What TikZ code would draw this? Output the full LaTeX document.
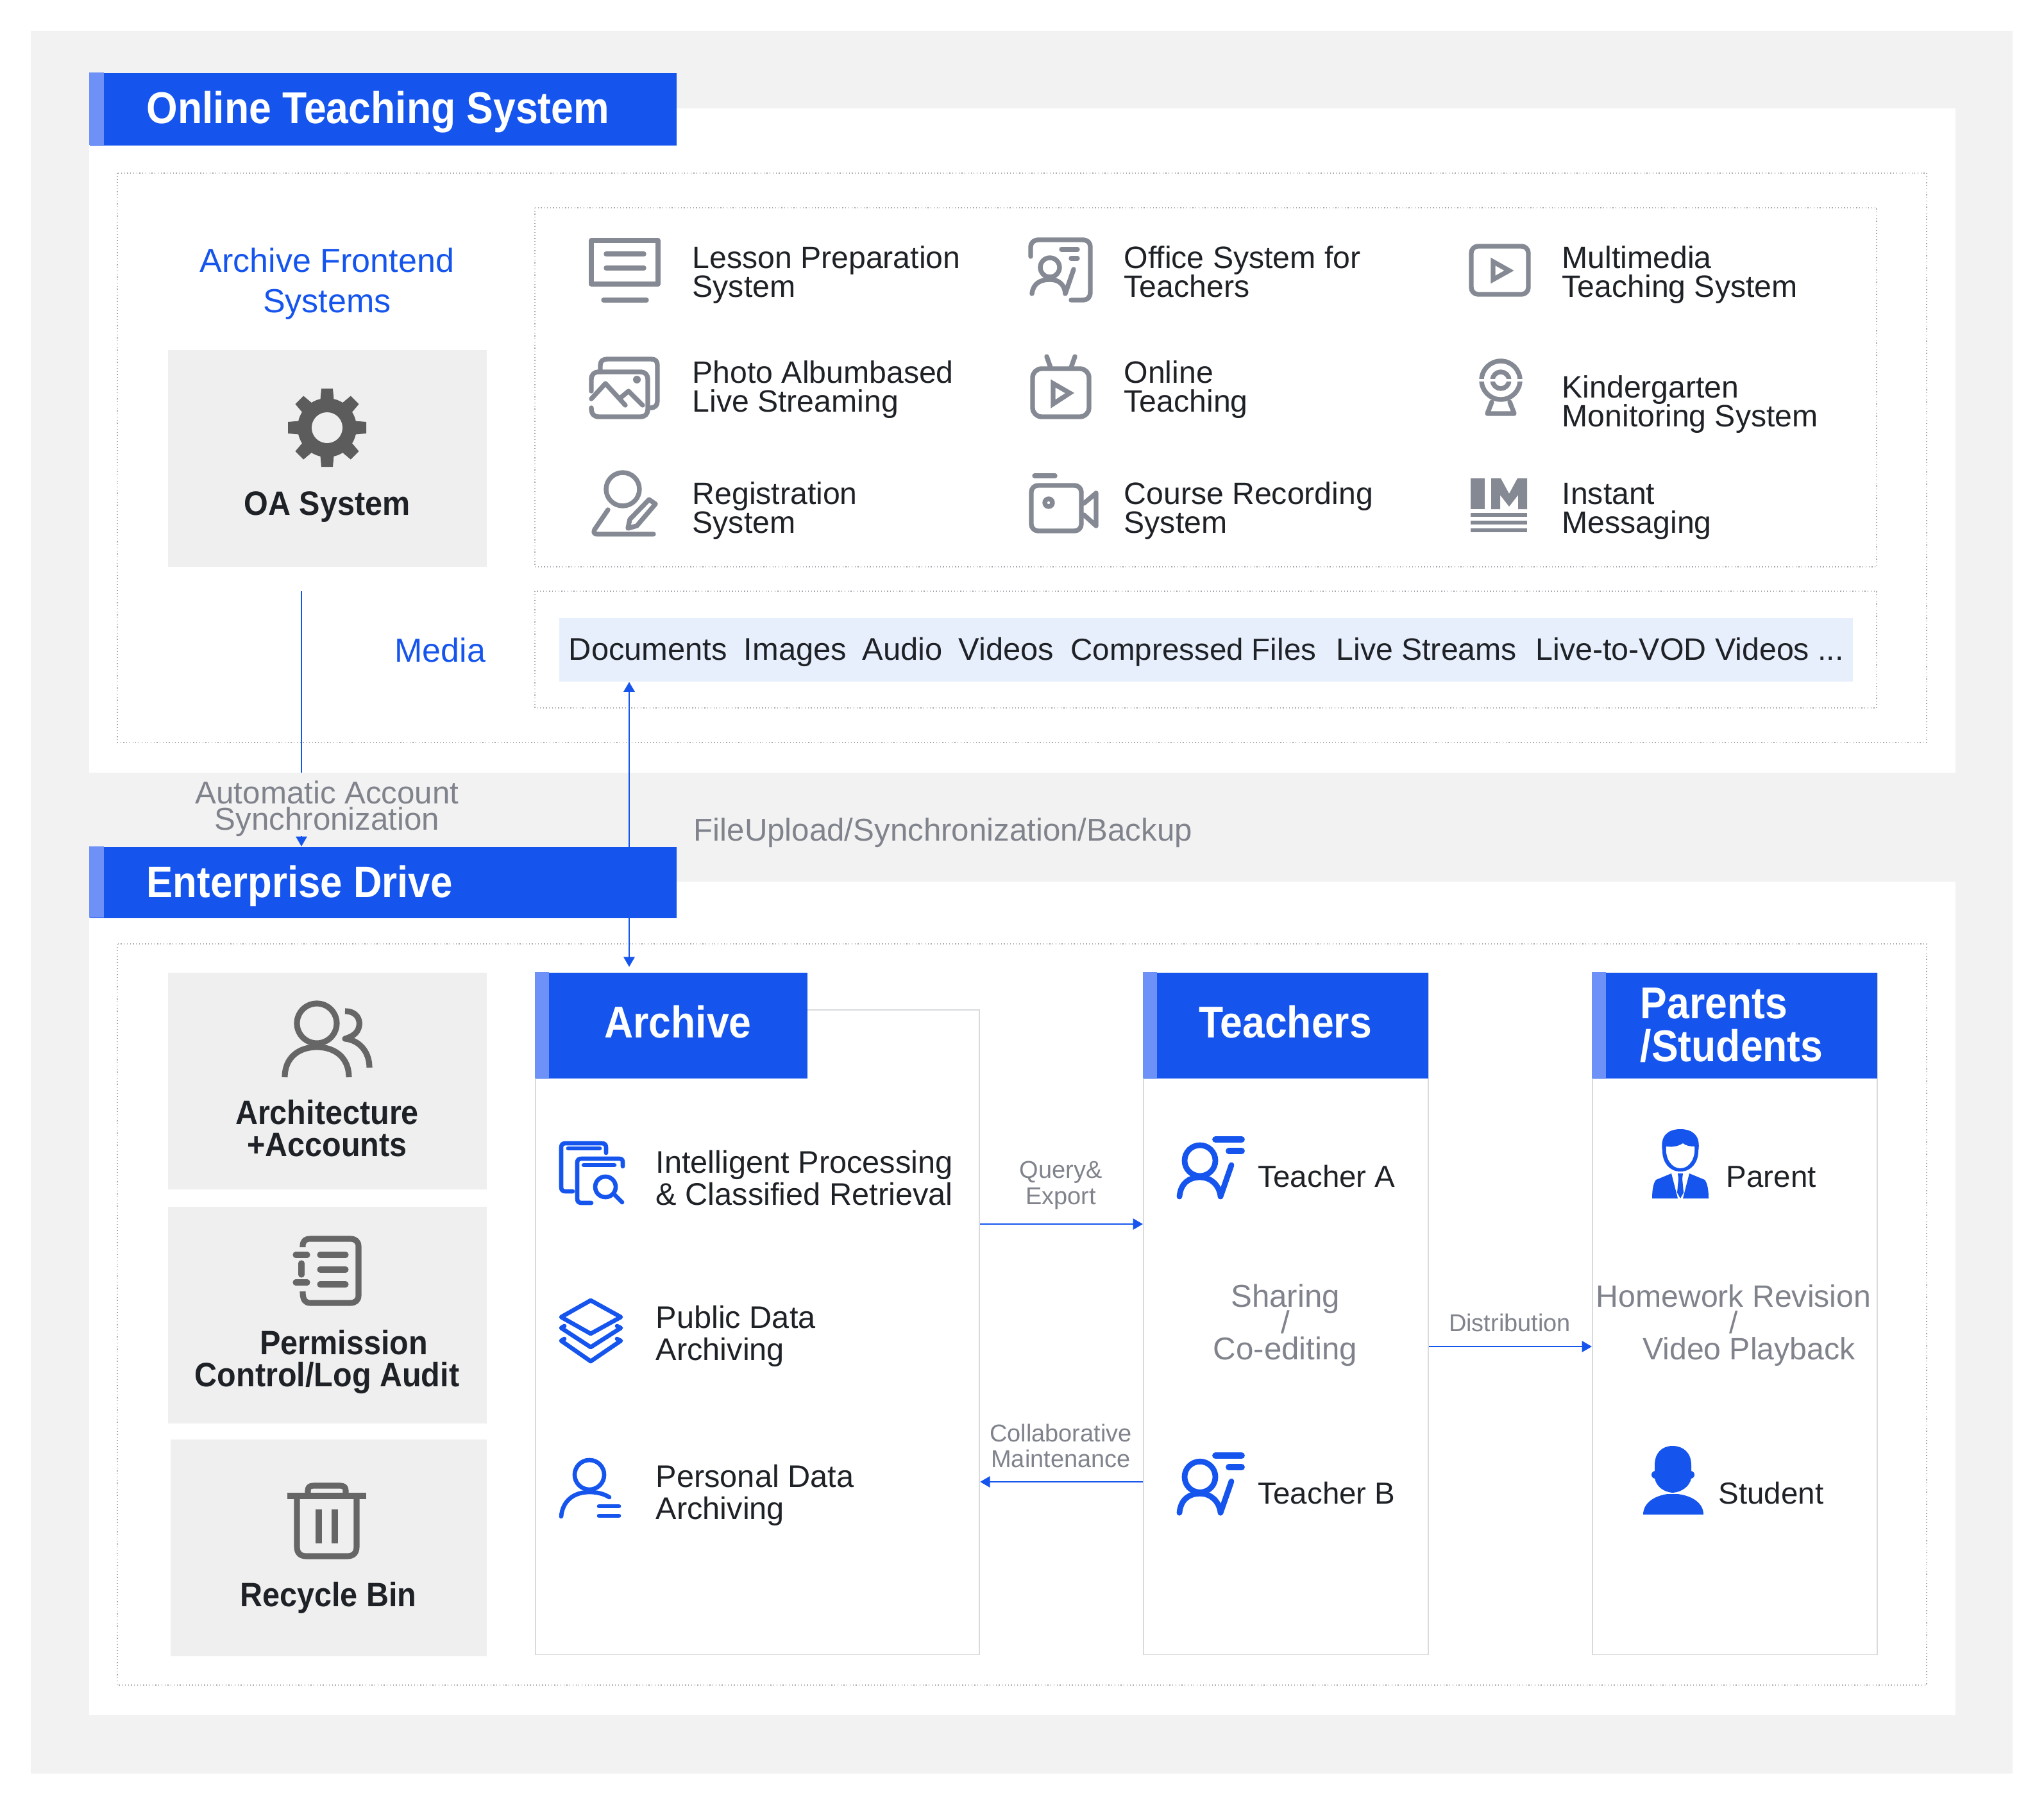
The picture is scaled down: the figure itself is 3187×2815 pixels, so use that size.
\documentclass[tikz,border=0pt]{standalone}
\usepackage{fontspec}
\setmainfont{Liberation Sans}
\newfontfamily\titlefamily[FakeStretch=0.9]{Liberation Sans}
\newfontfamily\labelfamily[FakeStretch=0.92]{Liberation Sans}
\usetikzlibrary{calc,arrows.meta}

\definecolor{brandBlue}{HTML}{1555EE}
\definecolor{accentBlue}{HTML}{6E91F7}
\definecolor{stripBlue}{HTML}{E8EFFC}
\definecolor{pageGrey}{HTML}{F2F2F2}
\definecolor{boxGrey}{HTML}{EFEFEF}
\definecolor{frameGrey}{HTML}{A4A7AD}
\definecolor{colGrey}{HTML}{D8DADD}
\definecolor{inkDark}{HTML}{1E2126}
\definecolor{inkGrey}{HTML}{80838C}
\definecolor{iconGrey}{HTML}{858993}
\definecolor{iconDark}{HTML}{666666}

\def\itemfont{\fontsize{13.7}{12.8}\selectfont\lineskiplimit=-20pt}
\def\peoplefont{\fontsize{13.5}{12.8}\selectfont}
\def\archfont{\fontsize{13.85}{14.2}\selectfont\lineskiplimit=-20pt}
\def\notefont{\fontsize{14}{11.7}\selectfont\lineskiplimit=-20pt}
\def\revisefont{\fontsize{13.7}{11.7}\selectfont\lineskiplimit=-20pt}
\def\smallfont{\fontsize{10.8}{11.6}\selectfont\lineskiplimit=-20pt}
\def\bluefont{\fontsize{14.8}{17.9}\selectfont\lineskiplimit=-20pt}
\def\titlefont{\titlefamily\bfseries\fontsize{19.75}{19}\selectfont\lineskiplimit=-20pt}
\def\drivefont{\titlefamily\bfseries\fontsize{19.5}{19}\selectfont}
\def\boxfont{\labelfamily\bfseries\fontsize{15}{14.2}\selectfont\lineskiplimit=-20pt}

\begin{document}
\begin{tikzpicture}[x=0.01cm,y=-0.01cm,>={Triangle[length=4.4pt,width=4.9pt]},
    panel/.style={fill=white},
    dotframe/.style={draw=frameGrey,densely dotted,line width=0.35pt},
    banner/.style={fill=brandBlue,anchor=north west,inner sep=0pt},
    stripe/.style={fill=accentBlue},
    greybox/.style={fill=boxGrey,anchor=north west,inner sep=0pt,minimum width=4.97cm,minimum height=3.38cm},
    colbox/.style={draw=colGrey,line width=0.5pt,fill=white,anchor=north west,inner sep=0pt},
    flow/.style={draw=brandBlue,line width=0.7pt},
    itemtext/.style={font=\itemfont,text=inkDark,align=left,anchor=west,inner sep=0pt},
    notetext/.style={font=\notefont,text=inkGrey,align=center,inner sep=0pt},
    smalltext/.style={font=\smallfont,text=inkGrey,align=center,inner sep=0pt},
    bluetext/.style={font=\bluefont,text=brandBlue,align=center,inner sep=0pt},
    titletext/.style={font=\titlefont,text=white,align=left,inner sep=0pt},
    boxtext/.style={font=\boxfont,text=inkDark,align=center,inner sep=0pt},
    greyicon/.style={draw=iconGrey,line width=2.1pt,line cap=round,line join=round},
    darkicon/.style={draw=iconDark,line width=2.6pt,line join=round},
    blueicon/.style={draw=brandBlue,line width=1.9pt,line cap=round,line join=round},
    teacher icon/.pic={
        \draw[draw=brandBlue,line width=2.5pt,line cap=round] (1871,1810) circle (24);
        \draw[draw=brandBlue,line width=2.5pt,line cap=round,line join=round] (1839,1866) .. controls (1841,1845) and (1854,1836) .. (1871,1836)
            .. controls (1888,1836) and (1901,1848) .. (1903,1866) -- (1920,1817);
        \draw[draw=brandBlue,line width=2.8pt,line cap=round] (1895,1777) -- (1936,1777);
        \draw[draw=brandBlue,line width=2.8pt,line cap=round] (1916,1795) -- (1936,1795);
    }]

    % --- 1. Page and Panels ---
    \useasboundingbox[fill=white] (0,0) rectangle (3187,2815);
    \fill[pageGrey] (48,48) rectangle (3138,2766);
    \fill[panel] (139,169) rectangle (3049,1205);
    \fill[panel] (139,1375) rectangle (3049,2675);
    \draw[dotframe] (183,270) rectangle (3004,1158);
    \draw[dotframe] (183,1472) rectangle (3004,2628);
    \draw[dotframe] (834,324) rectangle (2926,884);
    \draw[dotframe] (834,922) rectangle (2926,1104);

    % --- 2. Grey Boxes ---
    \node[greybox] (oaBox) at (261,545) {};
    \node[greybox] (archBox) at (261,1516) {};
    \node[greybox] (permBox) at (261,1881) {};
    \node[greybox,minimum width=4.93cm] (binBox) at (265,2244) {};

    % --- 3. Media Strip and Columns ---
    \node[fill=stripBlue,anchor=north west,inner sep=0pt,minimum width=20.16cm,minimum height=0.99cm] (mediaStrip) at (871,963) {};
    \node[colbox,minimum width=6.92cm,minimum height=10.05cm] (archiveCol) at (834,1574) {};
    \node[colbox,minimum width=4.44cm,minimum height=10.62cm] (teacherCol) at (1782,1517) {};
    \node[colbox,minimum width=4.44cm,minimum height=10.62cm] (parentCol) at (2482,1517) {};
    \node[banner,minimum width=4.24cm,minimum height=1.65cm] (archiveBanner) at (834,1516) {};
    \node[banner,minimum width=4.44cm,minimum height=1.65cm] (teacherBanner) at (1782,1516) {};
    \node[banner,minimum width=4.44cm,minimum height=1.65cm] (parentBanner) at (2482,1516) {};
    \fill[stripe] (archiveBanner.north west) rectangle ++(22,165);
    \fill[stripe] (teacherBanner.north west) rectangle ++(22,165);
    \fill[stripe] (parentBanner.north west) rectangle ++(22,165);

    % --- 4. Connectors ---
    \coordinate (syncStart) at (470,922);
    \coordinate (fileLine) at (981,0);
    \coordinate (queryLevel) at (0,1909);
    \coordinate (collabLevel) at (0,2311);
    \coordinate (distLevel) at (0,2100);
    \draw[flow,<->] (mediaStrip.south -| fileLine) -- ([yshift=2.3pt]archiveBanner.north -| fileLine);
    \draw[flow,->] (archiveCol.east |- queryLevel) -- (teacherCol.west |- queryLevel);
    \draw[flow,->] (teacherCol.west |- collabLevel) -- (archiveCol.east |- collabLevel);
    \draw[flow,->] (teacherCol.east |- distLevel) -- (parentCol.west |- distLevel);

    % --- 5. Section Banners ---
    \node[banner,minimum width=9.15cm,minimum height=1.13cm] (onlineBanner) at (139,113) {};
    \node[banner,minimum width=9.15cm,minimum height=1.11cm] (driveBanner) at (139,1320) {};
    \fill[stripe] (onlineBanner.north west) rectangle ++(23,113);
    \fill[stripe] (driveBanner.north west) rectangle ++(23,111);
    \draw[flow,->] (syncStart) -- (syncStart |- driveBanner.north);
    \fill[pageGrey] (290,1205) rectangle (730,1304);
    \node[notetext] (syncLabel) at (510,1261) {Automatic Account\\Synchronization};

    % --- 6. Titles ---
    \node[titletext,anchor=west] (onlineTitle) at (228,175) {Online Teaching System};
    \node[titletext,anchor=west,font=\drivefont] (driveTitle) at (228,1382) {Enterprise Drive};
    \node[titletext] (archiveTitle) at (1057,1594) {Archive};
    \node[titletext] (teacherTitle) at (2004,1594) {Teachers};
    \node[titletext,anchor=west] (parentTitle) at (2557,1599) {Parents\\/Students};

    % --- 7. Texts ---
    \node[bluetext] (frontendLabel) at (510,443) {Archive Frontend\\Systems};
    \node[bluetext,anchor=base east] (mediaLabel) at (758,1032) {Media};
    \node[boxtext] (oaLabel) at (510,791) {OA System};
    \node[boxtext] (archLabel) at (510,1760) {Architecture\\+Accounts};
    \node[boxtext] (permLabel) at (510,2124) {\hspace*{14.8pt}Permission\\Control/Log Audit};
    \node[boxtext] (binLabel) at (512,2492) {Recycle Bin};

    \foreach \tx/\ty/\lbl in {
        1079/429/{Lesson Preparation\\System},1752/424/{Office System for\\Teachers},2435/429/{Multimedia\\Teaching System},
        1079/608/{Photo Albumbased\\Live Streaming},1752/608/{Online\\Teaching},2435/631/{Kindergarten\\Monitoring System},
        1079/797/{Registration\\System},1752/797/{Course Recording\\System},2435/797/{Instant\\Messaging}}
        \node[itemtext] at (\tx,\ty) {\lbl};

    \foreach \ty/\lbl in {1837/{Intelligent Processing\\\& Classified Retrieval},2084/{Public Data\\Archiving},2332/{Personal Data\\Archiving}}
        \node[itemtext,font=\archfont] at (1022,\ty) {\lbl};

    \foreach \tx/\ty/\lbl in {1961/1835/{Teacher A},1961/2329/{Teacher B},2691/1835/{Parent},2679/2329/{Student}}
        \node[itemtext,font=\peoplefont] at (\tx,\ty) {\lbl};

    \foreach \tx/\fs/\lbl in {886/13.9/Documents,1159/13.9/Images,1344/13.9/Audio,1494/13.9/Videos,1669/13.5/Compressed Files,2083/13.7/Live Streams,2394/13.75/{Live-to-VOD Videos ...}}
        \node[itemtext,anchor=base west,font=\fontsize{\fs}{14}\selectfont] at (\tx,1029) {\lbl};

    \node[notetext,anchor=base west] (fileLabel) at (1081,1311) {FileUpload/Synchronization/Backup};
    \node[notetext] (shareLabel) at (2004,2067) {Sharing\\/\\Co-editing};
    \node[notetext,font=\revisefont] (homeworkLabel) at (2703,2067) {Homework Revision\\/\\\hspace*{13.6pt}Video Playback};
    \node[smalltext] (queryLabel) at (1654,1849) {Query\&\\Export};
    \node[smalltext] (collabLabel) at (1654,2255) {Collaborative\\Maintenance};
    \node[smalltext] (distLabel) at (2354,2063) {Distribution};

    % --- 8. Grey Icons (Upper Grid) ---
    \draw[greyicon] (922,375) rectangle (1026,443);
    \draw[greyicon] (945,396) -- (1004,396);
    \draw[greyicon] (945,418) -- (1004,418);
    \draw[greyicon] (941,468) -- (1008,468);

    \draw[greyicon] (1607,400) -- (1607,386) .. controls (1607,378) and (1612,374) .. (1620,374) -- (1687,374)
        .. controls (1696,374) and (1700,378) .. (1700,386) -- (1700,455) .. controls (1700,464) and (1696,468) .. (1687,468) -- (1670,468);
    \draw[greyicon] (1637,417) circle (15);
    \draw[greyicon] (1609,458) .. controls (1611,442) and (1622,436) .. (1637,436) .. controls (1652,436) and (1660,445) .. (1661,458) -- (1674,420);
    \draw[greyicon] (1655,389) -- (1680,389);
    \draw[greyicon] (1670,403) -- (1680,403);

    \draw[greyicon,rounded corners=3pt] (2294,384) rectangle (2383,459);
    \draw[greyicon,line join=miter] (2328,408) -- (2353,422) -- (2328,436) -- cycle;

    \draw[greyicon] (936,580) -- (936,570) .. controls (936,563) and (940,560) .. (947,560) -- (1015,560)
        .. controls (1022,560) and (1025,563) .. (1025,570) -- (1025,625) .. controls (1025,632) and (1022,636) .. (1014,636);
    \draw[greyicon] (922,610) -- (922,592) .. controls (922,584) and (926,580) .. (934,580) -- (998,580)
        .. controls (1006,580) and (1010,584) .. (1010,592) -- (1010,638) .. controls (1010,646) and (1006,650) .. (998,650)
        -- (934,650) .. controls (926,650) and (922,646) .. (922,636);
    \draw[greyicon] (922,622) -- (944,598) -- (975,632);
    \draw[greyicon] (968,620) -- (980,610) -- (1002,632);
    \fill[iconGrey] (993,592) circle (6);

    \draw[greyicon,rounded corners=4pt] (1610,575) rectangle (1698,650);
    \draw[greyicon] (1632,556) -- (1638,573);
    \draw[greyicon] (1676,556) -- (1670,573);
    \draw[greyicon,line join=miter] (1642,598) -- (1668,613) -- (1642,630) -- cycle;

    \draw[greyicon] (2340,593) circle (30);
    \draw[greyicon] (2340,593) circle (13);
    \fill[white] (2300,591) rectangle (2380,595);
    \draw[greyicon] (2326,627) -- (2319,645) -- (2361,645) -- (2354,627);

    \draw[greyicon] (971,763) circle (26);
    \draw[greyicon] (948,795) -- (927,826) .. controls (925,831) and (926,833) .. (932,833) -- (1019,833);
    \draw[greyicon] (1012,779) -- (1022,786) -- (993,820) -- (979,824) -- (982,810) -- cycle;

    \draw[greyicon,rounded corners=3pt] (1608,757) rectangle (1686,828);
    \draw[greyicon] (1613,742) -- (1645,742);
    \draw[greyicon] (1635,784) circle (6);
    \draw[greyicon] (1690,785) -- (1709,769) -- (1709,820) -- (1690,803);

    \fill[iconGrey] (2293,746) rectangle (2315,794);
    \fill[iconGrey] (2325,746) -- (2340,746) -- (2353,770) -- (2366,746) -- (2381,746) -- (2381,794) -- (2367,794) -- (2367,772)
        -- (2353,790) -- (2339,772) -- (2339,794) -- (2325,794) -- cycle;
    \foreach \ly in {803,815,827}
        \fill[iconGrey] (2293,\ly-3) rectangle (2381,\ly+3);

    % --- 9. Dark Icons (Left Boxes) ---
    \begin{scope}[shift={(510,667)}]
        \foreach \a in {0,45,...,315}
            \fill[iconDark!90!black,rotate=\a] (-11,38) -- (11,38) -- (9,61) -- (-9,61) -- cycle;
        \fill[iconDark!90!black] (0,0) circle (46);
        \fill[boxGrey] (0,0) circle (24);
    \end{scope}

    \draw[darkicon] (494,1596) circle (31);
    \draw[darkicon] (444,1680) .. controls (444,1650) and (465,1633) .. (494,1633) .. controls (523,1633) and (544,1650) .. (544,1680);
    \draw[darkicon] (538,1577) .. controls (556,1577) and (562,1590) .. (560,1600) .. controls (558,1612) and (548,1617) .. (538,1620)
        .. controls (560,1622) and (576,1640) .. (576,1665);

    \draw[darkicon] (472,1945) -- (472,1944) .. controls (472,1935) and (476,1932) .. (484,1932) -- (546,1932)
        .. controls (554,1932) and (559,1936) .. (559,1944) -- (559,2020) .. controls (559,2028) and (554,2032) .. (546,2032)
        -- (484,2032) .. controls (476,2032) and (472,2028) .. (472,2014);
    \draw[darkicon,line cap=round] (470,1970) -- (470,1988);
    \draw[darkicon,line cap=round] (461,1957) -- (479,1957);
    \draw[darkicon,line cap=round] (461,2000) -- (479,2000);
    \foreach \ly in {1957,1980,2003}
        \draw[darkicon,line cap=round] (499,\ly) -- (539,\ly);

    \draw[darkicon] (448,2333) -- (571,2333);
    \draw[darkicon] (480,2333) -- (480,2325) .. controls (480,2319) and (483,2317) .. (489,2317) -- (530,2317)
        .. controls (536,2317) and (539,2319) .. (539,2325) -- (539,2333);
    \draw[darkicon] (463,2333) -- (463,2412) .. controls (463,2422) and (468,2427) .. (478,2427) -- (541,2427)
        .. controls (551,2427) and (556,2422) .. (556,2412) -- (556,2333);
    \fill[iconDark] (492,2354) rectangle (502,2407);
    \fill[iconDark] (517,2354) rectangle (527,2407);

    % --- 10. Blue Icons ---
    \draw[blueicon] (893,1858) -- (882,1858) .. controls (877,1858) and (875,1856) .. (875,1851) -- (875,1790)
        .. controls (875,1785) and (877,1783) .. (882,1783) -- (938,1783) .. controls (943,1783) and (945,1785) .. (945,1790) -- (945,1798);
    \draw[blueicon] (886,1791) -- (935,1791);
    \draw[blueicon] (922,1876) -- (907,1876) .. controls (902,1876) and (900,1874) .. (900,1869) -- (900,1813)
        .. controls (900,1809) and (902,1807) .. (907,1807) -- (965,1807) .. controls (970,1807) and (971,1809) .. (971,1813) -- (971,1819);
    \draw[blueicon] (910,1817) -- (958,1817);
    \draw[blueicon] (944,1851) circle (16);
    \draw[blueicon] (957,1862) -- (970,1875);

    \draw[blueicon] (921,2028) -- (968,2054) -- (921,2080) -- (875,2054) -- cycle;
    \draw[blueicon] (880,2068) -- (875,2071) -- (921,2101) -- (968,2071) -- (962,2068);
    \draw[blueicon] (880,2088) -- (875,2091) -- (921,2123) -- (968,2091) -- (962,2088);

    \draw[blueicon] (919,2300) circle (23);
    \draw[blueicon] (875,2365) .. controls (877,2342) and (893,2327) .. (919,2327) .. controls (932,2327) and (942,2330) .. (950,2335);
    \draw[blueicon] (934,2349) -- (965,2349);
    \draw[blueicon] (934,2364) -- (965,2364);

    \pic {teacher icon};
    \pic[yshift=-4.93cm] {teacher icon};

    % --- A. Parent ---
    \fill[brandBlue] (2592,1795) .. controls (2588,1772) and (2600,1761) .. (2620,1761) .. controls (2640,1761) and (2652,1772) .. (2648,1795)
        .. controls (2648,1812) and (2638,1827) .. (2620,1827) .. controls (2602,1827) and (2592,1812) .. (2592,1795) -- cycle;
    \fill[white] (2598,1788) .. controls (2610,1790) and (2620,1786) .. (2624,1783) .. controls (2628,1787) and (2636,1788) .. (2642,1788)
        .. controls (2644,1806) and (2634,1822) .. (2620,1822) .. controls (2606,1822) and (2596,1806) .. (2598,1788) -- cycle;
    \fill[brandBlue] (2576,1869) .. controls (2576,1855) and (2578,1845) .. (2582,1840) -- (2606,1830) -- (2616,1869) -- cycle;
    \fill[brandBlue] (2664,1869) .. controls (2664,1855) and (2662,1845) .. (2658,1840) -- (2634,1830) -- (2624,1869) -- cycle;
    \fill[brandBlue] (2616,1830) -- (2624,1830) -- (2623,1838) -- (2625,1860) -- (2620,1869) -- (2615,1860) -- (2617,1838) -- cycle;

    % --- B. Student ---
    \fill[brandBlue] (2580,2285) .. controls (2580,2265) and (2592,2255) .. (2608,2255) .. controls (2624,2255) and (2637,2265) .. (2637,2285)
        -- (2637,2305) .. controls (2635,2318) and (2622,2327) .. (2608,2328) .. controls (2594,2327) and (2582,2318) .. (2580,2305) -- cycle;
    \fill[brandBlue] (2581,2300) circle (6);
    \fill[brandBlue] (2636,2300) circle (6);
    \fill[brandBlue] (2562,2362) .. controls (2562,2345) and (2578,2333) .. (2600,2330) -- (2616,2330) .. controls (2640,2333) and (2656,2345) .. (2656,2362) -- cycle;
\end{tikzpicture}
\end{document}
